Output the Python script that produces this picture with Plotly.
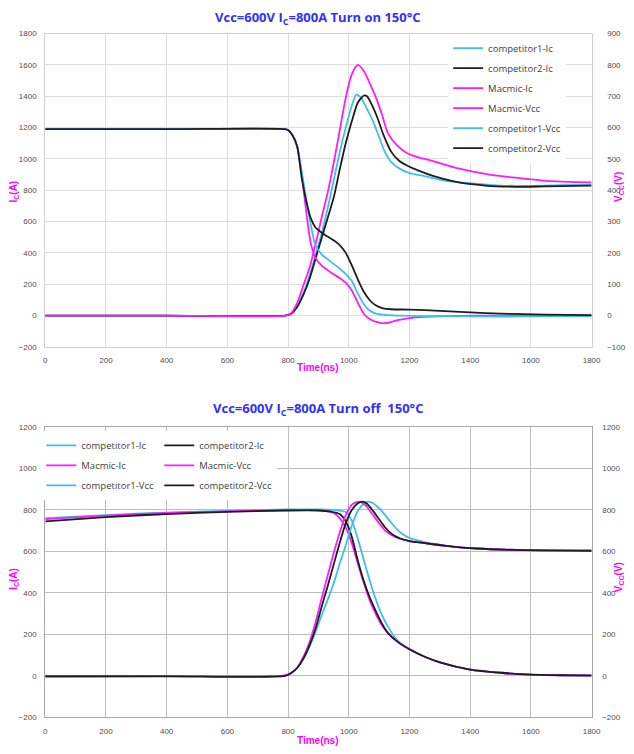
import plotly.graph_objects as go

W, H = 634, 754

# ---------------- Turn on (top chart) ----------------
on_c1_ic_t = [0, 400, 790, 810, 830, 850, 870, 890, 910, 930, 950, 970, 990, 1010, 1025, 1040, 1060, 1080, 1100, 1120, 1140, 1170, 1200, 1250, 1320, 1400, 1500, 1600, 1700, 1800]
on_c1_ic_v = [0, 0, 0, 12, 60, 140, 250, 380, 520, 680, 860, 1040, 1200, 1340, 1410, 1390, 1320, 1240, 1140, 1040, 980, 935, 910, 890, 860, 845, 830, 828, 832, 835]

on_c2_ic_t = [0, 400, 790, 810, 830, 850, 870, 890, 910, 930, 950, 970, 990, 1010, 1030, 1050, 1060, 1075, 1095, 1115, 1140, 1165, 1190, 1230, 1280, 1350, 1450, 1550, 1650, 1800]
on_c2_ic_v = [0, 0, 0, 12, 55, 130, 230, 360, 490, 620, 750, 930, 1100, 1240, 1360, 1405, 1400, 1350, 1260, 1150, 1045, 990, 960, 925, 890, 855, 830, 822, 825, 830]

on_mm_ic_t = [0, 400, 790, 810, 830, 850, 870, 890, 910, 930, 950, 970, 990, 1010, 1030, 1050, 1070, 1090, 1110, 1130, 1160, 1190, 1230, 1280, 1350, 1450, 1550, 1650, 1800]
on_mm_ic_v = [0, 0, 0, 15, 80, 190, 300, 450, 620, 780, 970, 1180, 1390, 1540, 1600, 1560, 1480, 1390, 1280, 1160, 1085, 1040, 1010, 985, 945, 905, 880, 860, 850]

on_mm_vcc_t = [0, 400, 790, 800, 815, 830, 845, 860, 875, 890, 910, 930, 950, 970, 990, 1010, 1030, 1050, 1070, 1090, 1110, 1130, 1160, 1200, 1250, 1350, 1500, 1800]
on_mm_vcc_v = [595, 595, 595, 592, 575, 540, 450, 330, 230, 185, 160, 145, 132, 120, 105, 80, 40, 5, -12, -20, -24, -23, -15, -8, -4, -1, 0, 0]

on_c1_vcc_t = [0, 400, 790, 800, 815, 830, 845, 860, 875, 890, 910, 930, 950, 970, 990, 1010, 1030, 1050, 1070, 1090, 1120, 1160, 1250, 1400, 1600, 1800]
on_c1_vcc_v = [595, 595, 595, 592, 575, 540, 460, 370, 290, 225, 196, 180, 165, 150, 132, 110, 70, 35, 15, 6, 2, 0, -2, -3, -3, -2]

on_c2_vcc_t = [0, 400, 790, 800, 815, 830, 845, 860, 875, 890, 910, 930, 950, 970, 990, 1010, 1030, 1050, 1070, 1090, 1110, 1140, 1200, 1300, 1400, 1500, 1650, 1800]
on_c2_vcc_v = [595, 595, 595, 592, 575, 540, 440, 365, 310, 282, 265, 252, 240, 225, 200, 160, 115, 75, 48, 32, 24, 20, 19, 15, 10, 6, 3, 1]

# ---------------- Turn off (bottom chart) ----------------
off_c1_ic_t = [0, 200, 400, 600, 800, 900, 950, 990, 1010, 1030, 1050, 1070, 1090, 1110, 1130, 1150, 1170, 1200, 1250, 1300, 1400, 1500, 1600, 1700, 1800]
off_c1_ic_v = [760, 775, 787, 795, 802, 802, 800, 790, 748, 660, 555, 455, 365, 290, 235, 190, 158, 128, 92, 66, 30, 15, 6, 3, 2]

off_c2_ic_t = [0, 200, 400, 600, 800, 900, 940, 970, 990, 1010, 1030, 1050, 1070, 1090, 1110, 1130, 1160, 1200, 1250, 1300, 1400, 1500, 1600, 1700, 1800]
off_c2_ic_v = [745, 765, 780, 790, 797, 797, 792, 780, 745, 670, 555, 455, 375, 310, 250, 205, 165, 128, 92, 65, 30, 15, 6, 3, 1]

off_mm_ic_t = [0, 200, 400, 600, 800, 880, 920, 950, 970, 990, 1010, 1030, 1050, 1070, 1090, 1110, 1140, 1170, 1200, 1250, 1300, 1400, 1500, 1600, 1700, 1800]
off_mm_ic_v = [755, 772, 785, 793, 800, 800, 795, 785, 760, 716, 640, 540, 445, 360, 295, 242, 190, 155, 128, 92, 65, 30, 15, 6, 3, 2]

off_mm_vcc_t = [0, 400, 790, 810, 830, 850, 870, 890, 910, 930, 950, 970, 990, 1010, 1030, 1045, 1060, 1080, 1100, 1120, 1145, 1170, 1200, 1250, 1320, 1420, 1550, 1800]
off_mm_vcc_v = [0, 0, 2, 15, 40, 90, 160, 255, 370, 480, 590, 690, 775, 825, 838, 834, 815, 775, 735, 700, 675, 660, 650, 640, 627, 614, 607, 603]

off_c1_vcc_t = [0, 400, 790, 810, 830, 850, 870, 890, 910, 930, 950, 970, 990, 1010, 1030, 1050, 1066, 1080, 1100, 1120, 1140, 1160, 1180, 1200, 1250, 1320, 1420, 1550, 1800]
off_c1_vcc_v = [0, 0, 2, 14, 38, 80, 140, 210, 290, 365, 445, 540, 630, 725, 795, 830, 840, 832, 808, 775, 738, 705, 680, 665, 645, 628, 614, 607, 603]

off_c2_vcc_t = [0, 400, 790, 810, 830, 850, 870, 890, 910, 930, 950, 970, 990, 1010, 1030, 1045, 1060, 1080, 1100, 1120, 1145, 1170, 1200, 1250, 1320, 1420, 1550, 1800]
off_c2_vcc_v = [-3, -2, 0, 13, 38, 82, 145, 225, 330, 430, 535, 640, 735, 800, 832, 840, 830, 795, 755, 715, 680, 662, 650, 640, 627, 614, 607, 603]

x_ticks = list(range(0, 1801, 200))

CYAN = "#3dbfee"
BLACK = "#1e1e1e"
MAG = "#ff1aff"

fig = go.Figure()

def add(t, v, name, color, xa, ya, legend):
    fig.add_trace(go.Scatter(
        x=t, y=v, name=name, mode="lines",
        line=dict(color=color, width=1.8, shape="spline", smoothing=0.7),
        xaxis=xa, yaxis=ya, legend=legend, legendgroup=name + legend,
    ))

# top
add(on_c1_ic_t, on_c1_ic_v, "competitor1-Ic", CYAN, "x", "y", "legend")
add(on_c2_ic_t, on_c2_ic_v, "competitor2-Ic", BLACK, "x", "y", "legend")
add(on_mm_ic_t, on_mm_ic_v, "Macmic-Ic", MAG, "x", "y", "legend")
add(on_mm_vcc_t, on_mm_vcc_v, "Macmic-Vcc", MAG, "x", "y2", "legend")
add(on_c1_vcc_t, on_c1_vcc_v, "competitor1-Vcc", CYAN, "x", "y2", "legend")
add(on_c2_vcc_t, on_c2_vcc_v, "competitor2-Vcc", BLACK, "x", "y2", "legend")

# bottom
add(off_c1_ic_t, off_c1_ic_v, "competitor1-Ic", CYAN, "x2", "y3", "legend2")
add(off_mm_ic_t, off_mm_ic_v, "Macmic-Ic", MAG, "x2", "y3", "legend2")
add(off_c1_vcc_t, off_c1_vcc_v, "competitor1-Vcc", CYAN, "x2", "y4", "legend2")
add(off_c2_ic_t, off_c2_ic_v, "competitor2-Ic", BLACK, "x2", "y3", "legend3")
add(off_mm_vcc_t, off_mm_vcc_v, "Macmic-Vcc", MAG, "x2", "y4", "legend3")
add(off_c2_vcc_t, off_c2_vcc_v, "competitor2-Vcc", BLACK, "x2", "y4", "legend3")

FONT = "Liberation Sans, Arial, sans-serif"
tickfont = dict(family=FONT, size=8, color="#4d4d4d")

xdom = [44 / W, 600 / W]
top_dom = [1 - 347 / H, 1 - 30 / H]
bot_dom = [1 - 722 / H, 1 - 428 / H]

def axis_common(grid, line):
    return dict(showgrid=True, gridcolor=grid, gridwidth=1, zeroline=False,
                showline=True, linecolor=line, linewidth=1, mirror=True,
                ticks="outside", ticklen=6, tickcolor="rgba(0,0,0,0)",
                tickfont=tickfont, fixedrange=True)

G1, L1 = "#dcdcdc", "#d0d0d0"
G2, L2 = "#bdbdbd", "#a8a8a8"

legfont = dict(family="Open Sans, sans-serif", size=9.5, color="#404040")

fig.update_layout(
    width=W, height=H,
    margin=dict(l=0, r=0, t=0, b=0),
    paper_bgcolor="white", plot_bgcolor="white",
    xaxis=dict(domain=xdom, anchor="y", range=[0, 1800], tickvals=x_ticks, **axis_common(G1, L1)),
    yaxis=dict(domain=top_dom, anchor="x", range=[-200, 1800], dtick=200, **axis_common(G1, L1)),
    yaxis2=dict(overlaying="y", anchor="x", side="right", range=[-100, 900], dtick=100,
                showgrid=False, zeroline=False, showline=False, ticks="outside", ticklen=13,
                tickcolor="rgba(0,0,0,0)", tickfont=tickfont, fixedrange=True),
    xaxis2=dict(domain=xdom, anchor="y3", range=[0, 1800], tickvals=x_ticks, **axis_common(G2, L2)),
    yaxis3=dict(domain=bot_dom, anchor="x2", range=[-200, 1200], dtick=200, **axis_common(G2, L2)),
    yaxis4=dict(overlaying="y3", anchor="x2", side="right", range=[-200, 1200], dtick=200,
                showgrid=False, zeroline=False, showline=False, ticks="outside", ticklen=8,
                tickcolor="rgba(0,0,0,0)", tickfont=tickfont, fixedrange=True),
    legend=dict(x=454 / W, y=1 - 30 / H, xanchor="left", yanchor="top", bgcolor="white",
                font=legfont, tracegroupgap=1, itemwidth=30),
    legend2=dict(x=40 / W, y=1 - 432 / H, xanchor="left", yanchor="top", bgcolor="white",
                 font=legfont, tracegroupgap=1, itemwidth=30),
    legend3=dict(x=160 / W, y=1 - 432 / H, xanchor="left", yanchor="top", bgcolor="white",
                 font=legfont, tracegroupgap=1, itemwidth=30),
)

TFONT = dict(family="Open Sans, sans-serif", size=13, color="#3030ff")
AFONT = dict(family=FONT, size=10, color="#ff00ff")

ann = [
    dict(text="<b>Vcc=600V I<sub>C</sub>=800A Turn on 150°C</b>", x=322 / W, y=1 - 14 / H, font=TFONT),
    dict(text="<b>Vcc=600V I<sub>C</sub>=800A Turn off  150°C</b>", x=322 / W, y=1 - 410 / H, font=TFONT),
    dict(text="<b>Time(ns)</b>", x=322 / W, y=1 - 368 / H, font=AFONT),
    dict(text="<b>Time(ns)</b>", x=322 / W, y=1 - 745 / H, font=AFONT),
    dict(text="<b>I<sub>C</sub>(A)</b>", x=12 / W, y=1 - 190 / H, font=AFONT, textangle=-90),
    dict(text="<b>V<sub>CC</sub>(V)</b>", x=628 / W, y=1 - 185 / H, font=AFONT, textangle=-90),
    dict(text="<b>I<sub>C</sub>(A)</b>", x=12 / W, y=1 - 582 / H, font=AFONT, textangle=-90),
    dict(text="<b>V<sub>CC</sub>(V)</b>", x=628 / W, y=1 - 580 / H, font=AFONT, textangle=-90),
]
for a in ann:
    a.update(xref="paper", yref="paper", showarrow=False, xanchor="center", yanchor="middle")
fig.update_layout(annotations=ann)

fig.write_html("out.html")
